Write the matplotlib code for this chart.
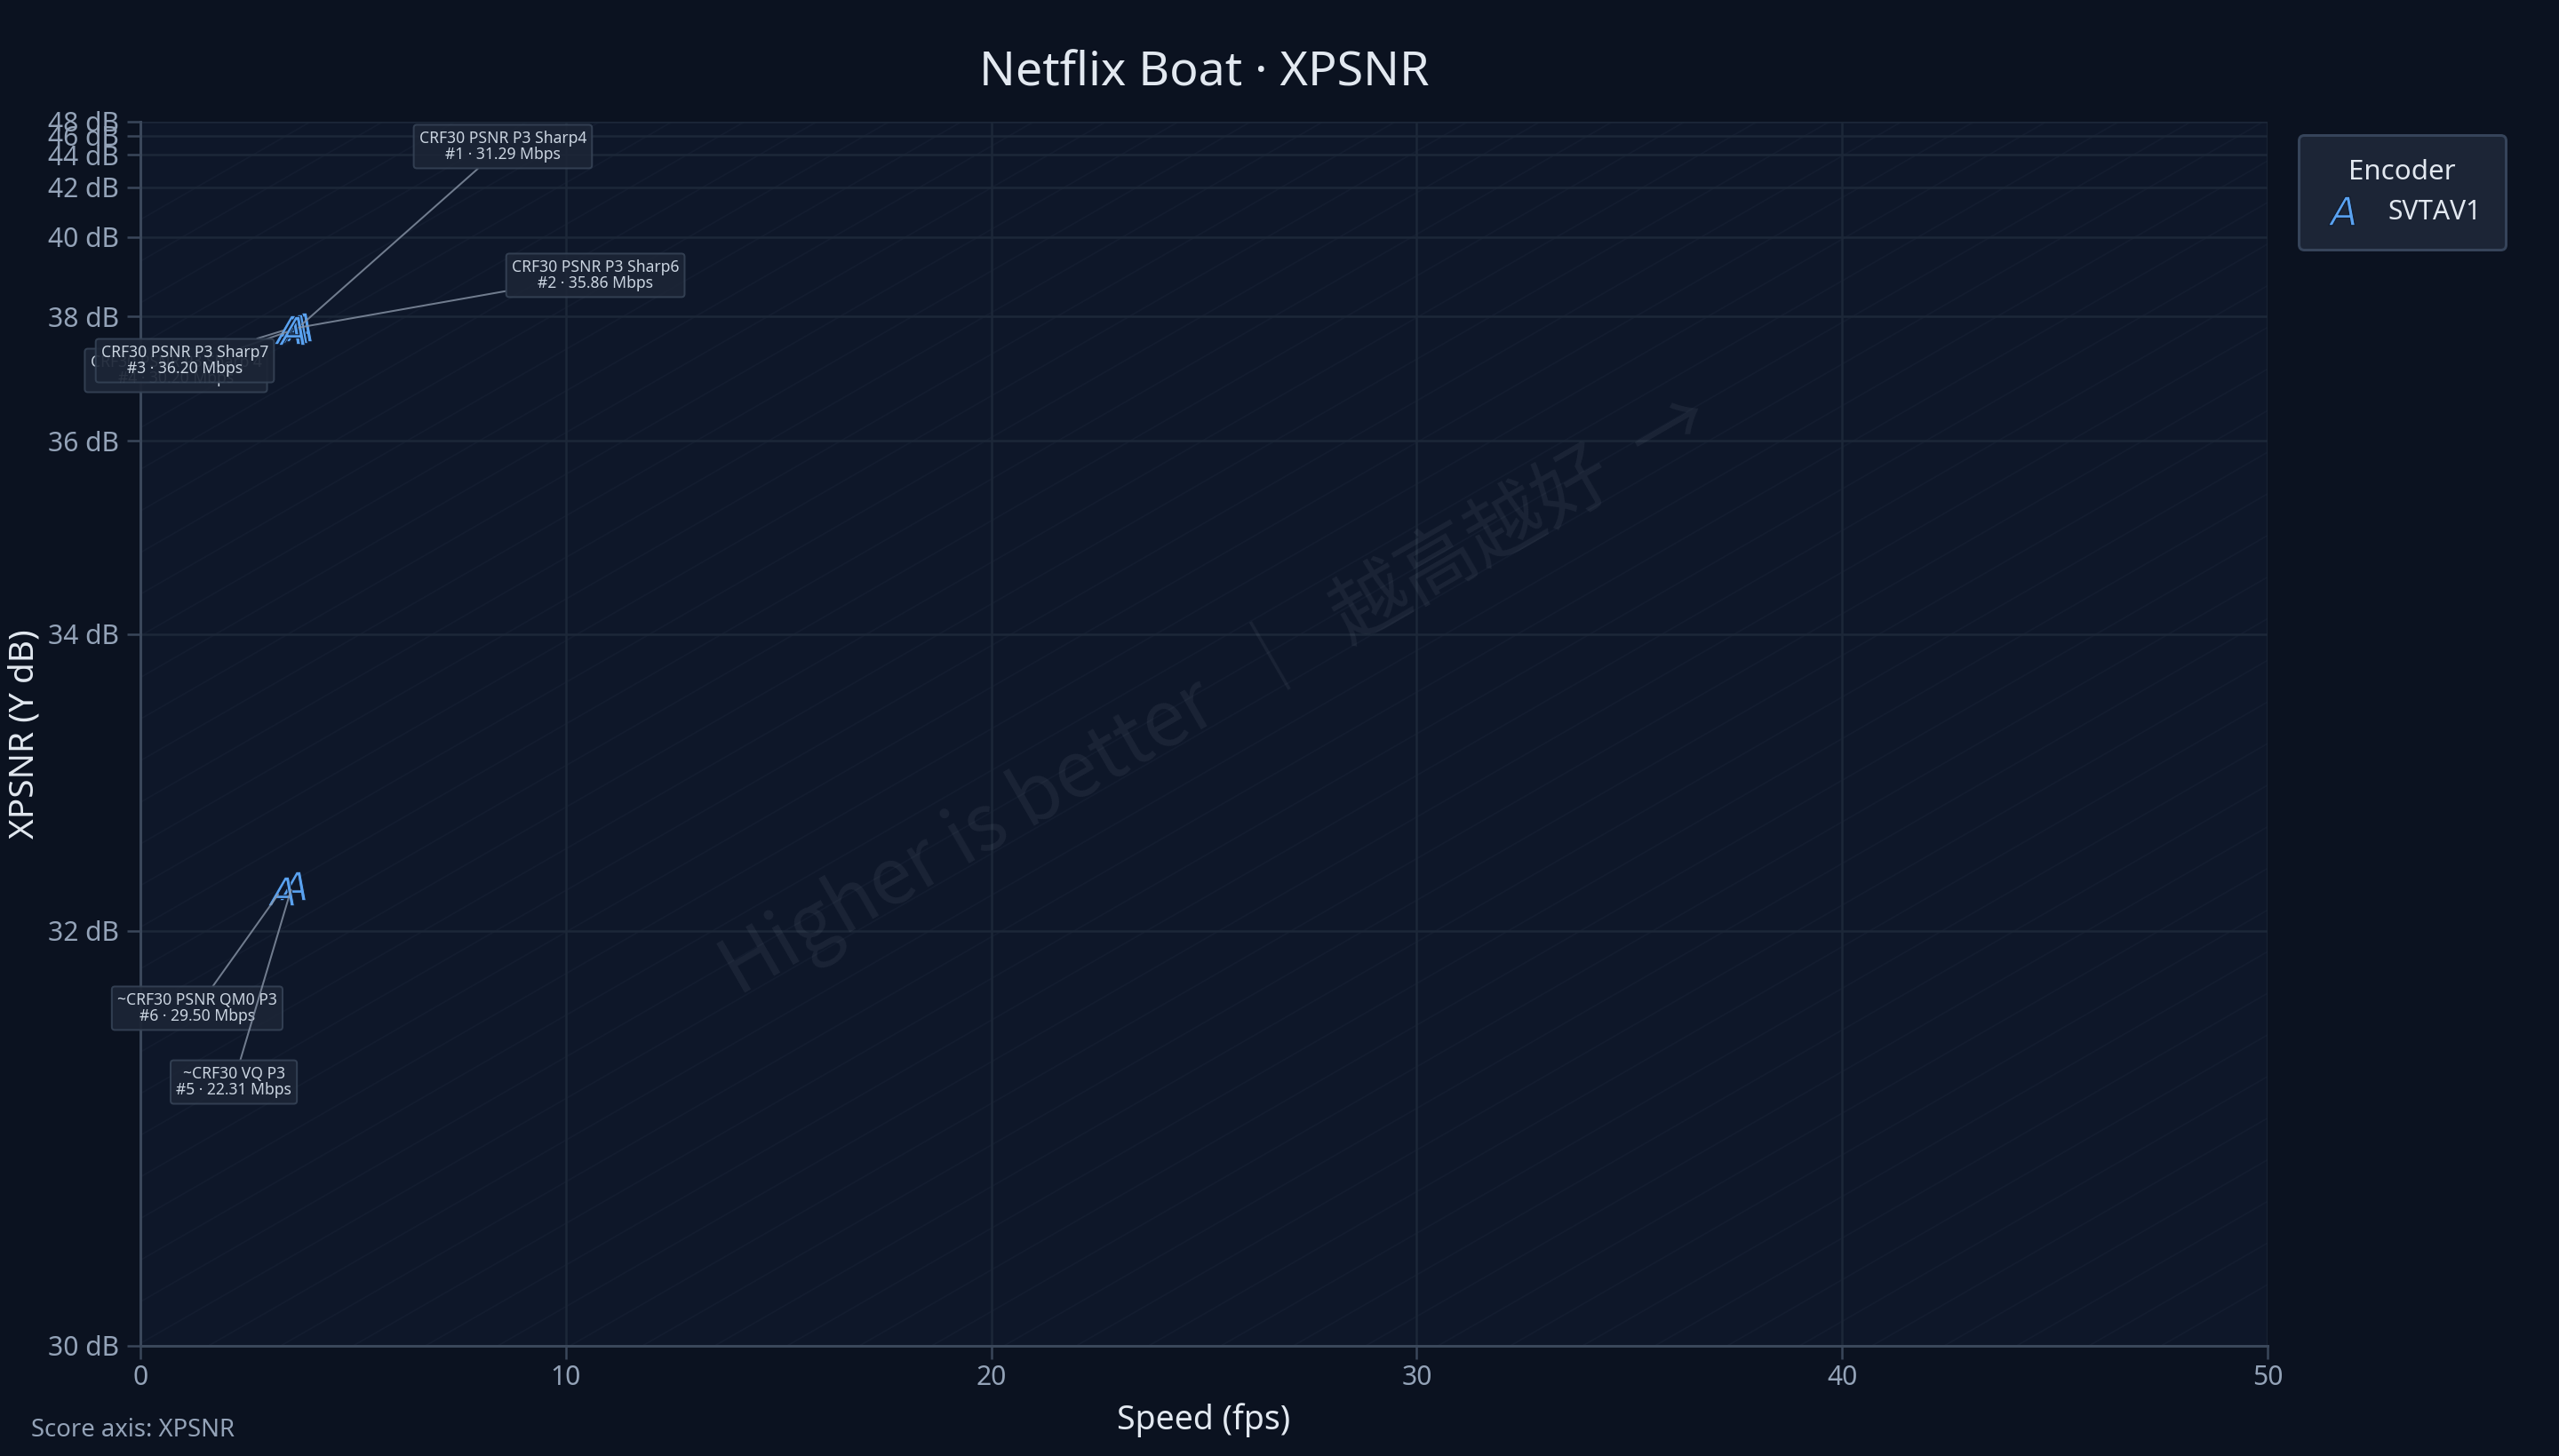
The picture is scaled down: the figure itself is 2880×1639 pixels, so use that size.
import numpy as np
import matplotlib
matplotlib.use("Agg")
import matplotlib.pyplot as plt

# ---------------- data ----------------
labels = ["CRF30 PSNR P3 Sharp4", "CRF30 PSNR P3 Sharp6", "CRF30 PSNR P3 Sharp7",
          "CRF30 PSNR P3 Sharp 4", "~CRF30 VQ P3", "~CRF30 PSNR QM0 P3"]
ranks = [1, 2, 3, 4, 5, 6]
bitrate_mbps = [31.29, 35.86, 36.20, 30.20, 22.31, 29.50]
speed_fps = [3.72, 3.62, 3.45, 3.55, 3.57, 3.30]
xpsnr_db = [37.78, 37.76, 37.74, 37.72, 32.25, 32.22]
encoder = "SVTAV1"
y_ticks = [30, 32, 34, 36, 38, 40, 42, 44, 46, 48]
x_ticks = [0, 10, 20, 30, 40, 50]

# label placement (axes fraction) – layout only
label_pos = [(0.1704, 0.9797), (0.2139, 0.8745), (0.0209, 0.8048),
             (0.0167, 0.7968), (0.0439, 0.2155), (0.0267, 0.2758)]

# ---------------- style ----------------
FIG_BG = "#0b1220"
AX_BG = "#0e1729"
GRID = "#1c2738"
SPINE = "#3a475a"
TICK = "#94a3b8"
TEXT = "#e2e8f0"
BLUE = "#5aa2f0"
FONT = ["Noto Sans", "DejaVu Sans"]
plt.rcParams["font.family"] = FONT

# custom score scale (distortion-like compression toward the top)
anchor_db = np.array(y_ticks, dtype=float)
anchor_u = np.array([0, 467.5, 801.5, 1019, 1159, 1248, 1304, 1341, 1362, 1378], dtype=float)
anchor_m = -10 ** (-anchor_db / 10)


def fwd(v):
    v = np.asarray(v, dtype=float)
    m = -10 ** (-v / 10)
    return np.interp(m, anchor_m, anchor_u)


def inv(u):
    u = np.asarray(u, dtype=float)
    m = np.interp(u, anchor_u, anchor_m)
    return -10 * np.log10(-m)


fig = plt.figure(figsize=(16, 1639 / 180), dpi=180, facecolor=FIG_BG)
ax = fig.add_axes([158 / 2880, 1 - 1515 / 1639, 2394 / 2880, 1378 / 1639])
ax.set_facecolor(AX_BG)
ax.set_yscale("function", functions=(fwd, inv))
ax.set_xlim(0, 50)
ax.set_ylim(30, 48)

# decorative diagonal lines
for c in np.arange(-0.95, 0.95, 0.034):
    ax.plot([0, 1], [c, 1 + c], transform=ax.transAxes, color="#8aa0bf",
            alpha=0.045, lw=0.7, zorder=0.5, clip_on=True)

ax.set_xticks(x_ticks)
ax.set_yticks(y_ticks)
ax.set_yticklabels([f"{t} dB" for t in y_ticks])
ax.grid(True, color=GRID, lw=1.0, zorder=0)
ax.set_axisbelow(True)
for s in ["top", "right"]:
    ax.spines[s].set_visible(False)
for s in ["left", "bottom"]:
    ax.spines[s].set_color(SPINE)
    ax.spines[s].set_linewidth(1.2)
ax.tick_params(axis="both", colors=SPINE, labelcolor=TICK, labelsize=12,
               length=6, width=1.0)
ax.tick_params(axis="x", pad=2.5)

ax.set_xlabel("Speed (fps)", color=TEXT, fontsize=15, labelpad=5)
ax.set_ylabel("XPSNR (Y dB)", color=TEXT, fontsize=15.5, labelpad=3)
fig.text((158 + 2552) / 2 / 2880, 1 - 83 / 1639, "Netflix Boat · XPSNR", color=TEXT,
         fontsize=21.5, ha="center", va="center")

# watermark
ax.text(0.505, 0.533, "Higher is better  ｜  越高越好  →", transform=ax.transAxes,
        rotation=30, ha="center", va="center", fontsize=35, color="#cbd5e1",
        alpha=0.07, family=["Noto Sans CJK SC", "DejaVu Sans"], zorder=0.6)

# points
ax.plot(speed_fps, xpsnr_db, linestyle="none", marker="$A$", markersize=13,
        color=BLUE, markeredgecolor=AX_BG, markeredgewidth=0.4, zorder=5,
        label=encoder)

# annotations
for lab, rk, br, x, y, pos in zip(labels, ranks, bitrate_mbps, speed_fps, xpsnr_db, label_pos):
    ax.annotate(f"{lab}\n#{rk} · {br:.2f} Mbps", xy=(x, y), xytext=pos,
                textcoords="axes fraction", ha="center", va="center",
                fontsize=7, color="#cbd5e1", linespacing=1.05,
                bbox=dict(boxstyle="round,pad=0.35,rounding_size=0.2", fc="#1c2536",
                          ec="#354255", lw=0.8, alpha=0.92),
                arrowprops=dict(arrowstyle="-", color="#8a96a8", lw=0.8, alpha=0.8,
                                shrinkA=0, shrinkB=2),
                zorder=20 - rk)

leg = ax.legend(title="Encoder", loc="upper left", bbox_to_anchor=(1.0146, 0.989),
                borderaxespad=0, frameon=True, fontsize=12, title_fontsize=12.5,
                borderpad=0.9, handlelength=1.4, handletextpad=1.05, markerscale=1.0)
leg.get_frame().set_facecolor("#1c2536")
leg.get_frame().set_edgecolor("#36445a")
leg.get_frame().set_linewidth(1.2)
leg.get_frame().set_alpha(1)
leg.get_title().set_color(TEXT)
for t in leg.get_texts():
    t.set_color(TEXT)

fig.text(35 / 2880, 1 - 1610 / 1639, "Score axis: XPSNR", color=TICK, fontsize=11,
         ha="left", va="center")

fig.savefig("out.png", dpi=180, facecolor=FIG_BG)
